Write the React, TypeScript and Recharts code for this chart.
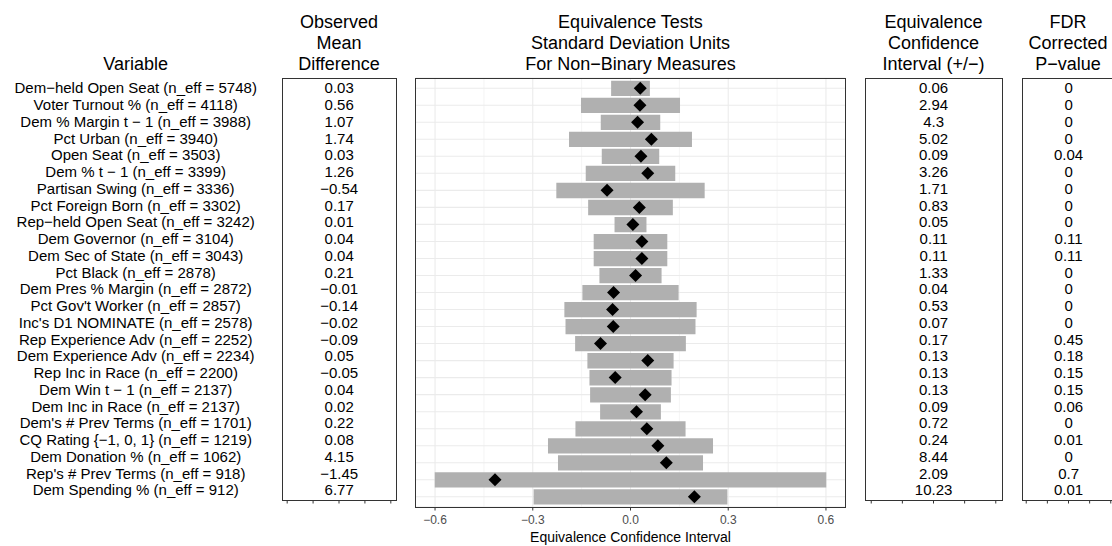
import React from 'react';
import { ComposedChart, Bar, Line, XAxis, YAxis, CartesianGrid } from 'recharts';

// ---------- data ----------
const variables = [
  'Dem\u2212held Open Seat', 'Voter Turnout %', 'Dem % Margin t \u2212 1', 'Pct Urban', 'Open Seat',
  'Dem % t \u2212 1', 'Partisan Swing', 'Pct Foreign Born', 'Rep\u2212held Open Seat', 'Dem Governor',
  'Dem Sec of State', 'Pct Black', 'Dem Pres % Margin', "Pct Gov't Worker", "Inc's D1 NOMINATE",
  'Rep Experience Adv', 'Dem Experience Adv', 'Rep Inc in Race', 'Dem Win t \u2212 1', 'Dem Inc in Race',
  "Dem's # Prev Terms", 'CQ Rating {\u22121, 0, 1}', 'Dem Donation %', "Rep's # Prev Terms", 'Dem Spending %',
];
const nEff = [5748, 4118, 3988, 3940, 3503, 3399, 3336, 3302, 3242, 3104, 3043, 2878, 2872, 2857, 2578,
  2252, 2234, 2200, 2137, 2137, 1701, 1219, 1062, 918, 912];
const observedDiff = [0.03, 0.56, 1.07, 1.74, 0.03, 1.26, -0.54, 0.17, 0.01, 0.04, 0.04, 0.21, -0.01, -0.14,
  -0.02, -0.09, 0.05, -0.05, 0.04, 0.02, 0.22, 0.08, 4.15, -1.45, 6.77];
const ciRaw = [0.06, 2.94, 4.3, 5.02, 0.09, 3.26, 1.71, 0.83, 0.05, 0.11, 0.11, 1.33, 0.04, 0.53, 0.07,
  0.17, 0.13, 0.13, 0.13, 0.09, 0.72, 0.24, 8.44, 2.09, 10.23];
const fdrP = [0, 0, 0, 0, 0.04, 0, 0, 0, 0, 0.11, 0.11, 0, 0, 0, 0, 0.45, 0.18, 0.15, 0.15, 0.06, 0, 0.01, 0, 0.7, 0.01];
// equivalence interval half-width and mean difference, in SD units
const ciSd = [0.0595, 0.152, 0.0913, 0.1887, 0.0882, 0.1374, 0.2277, 0.13, 0.049, 0.113, 0.113, 0.0954, 0.1477,
  0.203, 0.1995, 0.17, 0.1323, 0.126, 0.124, 0.0933, 0.169, 0.2533, 0.2226, 0.601, 0.2974];
const diffSd = [0.03, 0.029, 0.0216, 0.064, 0.032, 0.053, -0.072, 0.027, 0.0073, 0.035, 0.035, 0.0155, -0.052,
  -0.055, -0.053, -0.092, 0.053, -0.047, 0.045, 0.0185, 0.05, 0.084, 0.11, -0.416, 0.196];

const xTicks = [-0.6, -0.3, 0, 0.3, 0.6];
const xMinorTicks = [-0.45, -0.15, 0.15, 0.45];
const tableTicks = [0, 1, 2, 3, 4];

const headerVariable = ['Variable'];
const headerObserved = ['Observed', 'Mean', 'Difference'];
const headerCenter = ['Equivalence Tests', 'Standard Deviation Units', 'For Non\u2212Binary Measures'];
const headerCI = ['Equivalence', 'Confidence', 'Interval (+/\u2212)'];
const headerP = ['FDR', 'Corrected', 'P\u2212value'];
const xAxisTitle = 'Equivalence Confidence Interval';

// ---------- derived table ----------
const rows = variables.map((v, i) => ({
  label: `${v} (n_eff = ${nEff[i]})`,
  observed: observedDiff[i],
  ci: ciRaw[i],
  p: fdrP[i],
  range: [-ciSd[i], ciSd[i]],
  diff: diffSd[i],
}));
const rowByLabel = new Map(rows.map((r) => [r.label, r]));

const FONT = '"Liberation Sans", Arial, Helvetica, sans-serif';
const fmt = (v: number) => String(v).replace('-', '\u2212');
const W = 1112;
const H = 546;

const EmptyTick = () => <g />;

type Col = { x: number; get: (r: any) => string };
const makeTableTick = (cols: Col[]) => (props: any) => {
  const { y, payload } = props;
  const row = rowByLabel.get(payload.value);
  if (!row) return <g />;
  return (
    <g>
      {cols.map((c, k) => (
        <text key={k} x={c.x} y={y} dy="0.36em" textAnchor="middle" fontSize={15} fill="#000" fontFamily={FONT}>
          {c.get(row)}
        </text>
      ))}
    </g>
  );
};

const Diamond = (props: any) => {
  const { cx, cy, index } = props;
  if (cx == null || cy == null) return <g key={`d${index}`} />;
  const r = 6.5;
  return (
    <polygon
      key={`d${index}`}
      points={`${cx},${cy - r} ${cx + r},${cy} ${cx},${cy + r} ${cx - r},${cy}`}
      fill="#000"
    />
  );
};

const Frame = ({ x0, x1, y0, y1 }: { x0: number; x1: number; y0: number; y1: number }) => (
  <div
    style={{
      position: 'absolute', left: x0, top: y0, width: x1 - x0 + 1, height: y1 - y0 + 1,
      border: '1px solid #333333', boxSizing: 'border-box', pointerEvents: 'none',
    }}
  />
);

const Layer = ({ children }: { children: React.ReactNode }) => (
  <div style={{ position: 'absolute', left: 0, top: 0 }}>{children}</div>
);

const Header = ({ lines, x }: { lines: string[]; x: number }) => {
  const base = [27.5, 48.5, 69.5];
  const start = 3 - lines.length;
  return (
    <>
      {lines.map((l, i) => (
        <text key={i} x={x} y={base[start + i]} textAnchor="middle" fontSize={18} fill="#000" fontFamily={FONT}>
          {l}
        </text>
      ))}
    </>
  );
};

const TableChart = ({ left, right, width, cols }: { left: number; right: number; width: number; cols: Col[] }) => (
  <ComposedChart
    width={width}
    height={H}
    data={rows}
    layout="vertical"
    margin={{ top: 78, right: width - right, bottom: 0, left: 0 }}
  >
    <XAxis
      type="number"
      domain={[-0.2, 4.2]}
      ticks={tableTicks}
      allowDataOverflow
      interval={0}
      tick={EmptyTick}
      tickLine={{ stroke: '#333333', strokeWidth: 1 }}
      tickSize={3.5}
      axisLine={false}
      height={H - 500}
    />
    <YAxis
      type="category"
      dataKey="label"
      scale="band"
      width={left}
      interval={0}
      padding={{ top: 1.67, bottom: 1.67 }}
      tickLine={false}
      axisLine={false}
      tick={makeTableTick(cols)}
    />
  </ComposedChart>
);

export default function App() {
  return (
    <div
      style={{
        position: 'absolute', left: 0, top: 0, width: W, height: H, overflow: 'hidden',
        background: '#ffffff', fontFamily: FONT,
      }}
    >
      {/* Observed mean difference table + variable labels */}
      <Layer>
        <TableChart
          left={282}
          right={396}
          width={W}
          cols={[
            { x: 135.7, get: (r) => r.label },
            { x: 339.2, get: (r) => fmt(r.observed) },
          ]}
        />
      </Layer>

      {/* Center equivalence panel */}
      <Layer>
        <ComposedChart
          width={W}
          height={H}
          data={rows}
          layout="vertical"
          margin={{ top: 78, right: W - 845.5, bottom: 0, left: 415.5 }}
        >
          <CartesianGrid xAxisId="minor" horizontal={false} stroke="#ebebeb" strokeWidth={0.55} />
          <CartesianGrid stroke="#ebebeb" strokeWidth={1.07} />
          <XAxis
            type="number"
            domain={[-0.66, 0.66]}
            ticks={xTicks}
            allowDataOverflow
            interval={0}
            tickFormatter={(v: number) => v.toFixed(1).replace('-', '\u2212')}
            tick={{ fontSize: 12, fill: '#4d4d4d', fontFamily: FONT }}
            tickLine={{ stroke: '#333333', strokeWidth: 1 }}
            tickSize={3.5}
            tickMargin={5}
            axisLine={false}
            height={H - 507}
          />
          <XAxis
            xAxisId="minor"
            type="number"
            orientation="top"
            domain={[-0.66, 0.66]}
            ticks={xMinorTicks}
            allowDataOverflow
            interval={0}
            tick={EmptyTick}
            tickLine={false}
            axisLine={false}
            height={0}
          />
          <YAxis
            type="category"
            dataKey="label"
            scale="band"
            width={0}
            interval={0}
            padding={{ top: 1.7, bottom: 1.7 }}
            tick={EmptyTick}
            tickLine={false}
            axisLine={false}
          />
          <Bar dataKey="range" fill="#b0b0b0" barSize={15.3} isAnimationActive={false} />
          <Line
            dataKey="diff"
            stroke="none"
            dot={Diamond}
            activeDot={false}
            isAnimationActive={false}
          />
        </ComposedChart>
      </Layer>

      {/* CI table */}
      <Layer>
        <TableChart left={865} right={1002} width={W} cols={[{ x: 933.6, get: (r) => fmt(r.ci) }]} />
      </Layer>

      {/* FDR table (runs past right edge, clipped) */}
      <Layer>
        <TableChart left={1022} right={1115} width={1116} cols={[{ x: 1068.6, get: (r) => fmt(r.p) }]} />
      </Layer>

      <Frame x0={282} x1={396} y0={78} y1={500} />
      <Frame x0={415} x1={845} y0={78} y1={507} />
      <Frame x0={865} x1={1002} y0={78} y1={500} />
      <Frame x0={1022} x1={1120} y0={78} y1={500} />

      <svg
        width={W}
        height={H}
        style={{ position: 'absolute', left: 0, top: 0, pointerEvents: 'none' }}
      >
        <Header lines={headerVariable} x={135.7} />
        <Header lines={headerObserved} x={339} />
        <Header lines={headerCenter} x={630.5} />
        <Header lines={headerCI} x={933.6} />
        <Header lines={headerP} x={1068} />
        <text x={630.5} y={541.5} textAnchor="middle" fontSize={14} fill="#000" fontFamily={FONT}>
          {xAxisTitle}
        </text>
      </svg>
    </div>
  );
}
